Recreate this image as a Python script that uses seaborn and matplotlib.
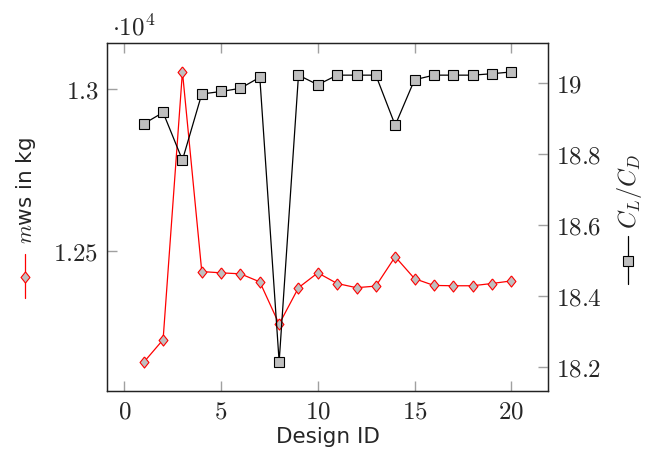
import matplotlib
matplotlib.use("Agg")
import matplotlib.pyplot as plt
from matplotlib.lines import Line2D
import seaborn as sns
import pandas as pd

design_id = list(range(1, 21))
mass_kg = [12154, 12224, 13054, 12435, 12431, 12428, 12403, 12272, 12385, 12431,
           12398, 12385, 12390, 12481, 12413, 12392, 12391, 12391, 12398, 12406]
cl_cd = [18.885, 18.917, 18.783, 18.969, 18.976, 18.985, 19.016, 18.215, 19.022, 18.995,
         19.022, 19.022, 19.022, 18.881, 19.009, 19.022, 19.022, 19.022, 19.026, 19.031]
x_ticks = [0, 5, 10, 15, 20]
left_ticks = [12500, 13000]
left_tick_labels = ["1.25", "1.3"]
right_ticks = [18.2, 18.4, 18.6, 18.8, 19.0]
right_tick_labels = ["18.2", "18.4", "18.6", "18.8", "19"]

sns.set_style("white")
plt.rcParams["font.family"] = ["DejaVu Sans"]
plt.rcParams["mathtext.fontset"] = "cm"

df = pd.DataFrame({"design": design_id, "mass": mass_kg, "clcd": cl_cd})

W, H = 649, 455
fig = plt.figure(figsize=(W / 100, H / 100), dpi=100)
ax = fig.add_axes([107 / W, 1 - 391 / H, (548 - 107) / W, (391 - 43) / H])
ax2 = ax.twinx()

GRAY = "#bfbfbf"
TICKC = "#a0a0a0"
TICKFS = 18
diamond = [(0, 1), (0.8, 0), (0, -1), (-0.8, 0), (0, 1)]

sns.lineplot(data=df, x="design", y="mass", ax=ax, color="red", linewidth=0.9,
             marker=diamond, markersize=8, markerfacecolor=GRAY,
             markeredgecolor="red", markeredgewidth=0.8)
sns.lineplot(data=df, x="design", y="clcd", ax=ax2, color="black", linewidth=0.9,
             marker="s", markersize=7.8, markerfacecolor=GRAY,
             markeredgecolor="black", markeredgewidth=0.8)

ax.set_xlim(-0.9, 21.9)
ax.set_ylim(12065, 13143)
ax2.set_ylim(18.133, 19.1125)

ax.set_xticks(x_ticks)
ax.set_xticklabels([f"${t}$" for t in x_ticks], fontsize=TICKFS)
ax.set_yticks(left_ticks)
ax.set_yticklabels([f"${t}$" for t in left_tick_labels], fontsize=TICKFS)
ax2.set_yticks(right_ticks)
ax2.set_yticklabels([f"${t}$" for t in right_tick_labels], fontsize=TICKFS)

ax.tick_params(axis="x", direction="in", top=True, bottom=True, length=7.5,
               width=1, color=TICKC, pad=6)
ax.tick_params(axis="y", direction="in", left=True, right=False, length=7.5,
               width=1, color=TICKC, pad=6)
ax2.tick_params(axis="y", direction="in", right=True, left=False, length=7.5,
                width=1, color=TICKC, pad=6)

for a in (ax, ax2):
    for s in a.spines.values():
        s.set_color("#222222")
        s.set_linewidth(0.9)

ax.set_xlabel("Design ID", fontsize=15.5, labelpad=3)
ax.set_ylabel("")
ax2.set_ylabel("")

# exponent label
fig.text(112 / W, 1 - 35 / H, r"$\cdot 10^{4}$", fontsize=TICKFS, ha="left", va="baseline")

# left legend-style label
fig.text(26 / W, 1 - 244 / H, r"$m$ws in kg", fontsize=15.5, rotation=90,
         ha="center", va="bottom")
fig.add_artist(Line2D([25 / W, 25 / W], [1 - 298 / H, 1 - 254 / H],
                      transform=fig.transFigure, color="red", lw=0.9))
fig.add_artist(Line2D([25 / W], [1 - 277 / H], transform=fig.transFigure,
                      marker=diamond, markersize=8, markerfacecolor=GRAY,
                      markeredgecolor="red", markeredgewidth=0.8, linestyle="none"))

# right legend-style label
fig.text(630 / W, 1 - 229 / H, r"$C_L/C_D$", fontsize=17.5, rotation=90,
         ha="center", va="bottom")
fig.add_artist(Line2D([628 / W, 628 / W], [1 - 284 / H, 1 - 236 / H],
                      transform=fig.transFigure, color="black", lw=0.9))
fig.add_artist(Line2D([628 / W], [1 - 261 / H], transform=fig.transFigure,
                      marker="s", markersize=7.8, markerfacecolor=GRAY,
                      markeredgecolor="black", markeredgewidth=0.8, linestyle="none"))

fig.savefig("out.png", dpi=100)
